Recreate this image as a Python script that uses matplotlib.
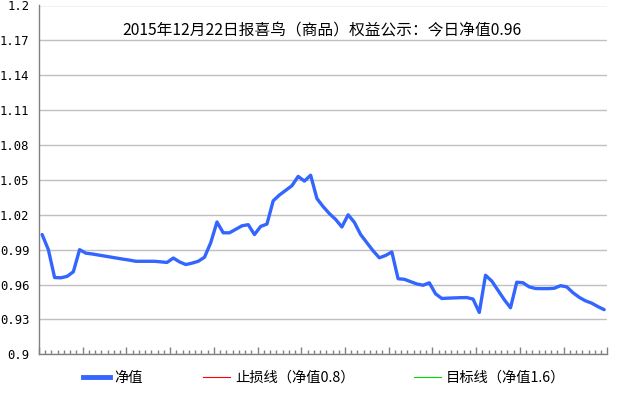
import matplotlib
matplotlib.use("Agg")
import matplotlib.pyplot as plt
from matplotlib.lines import Line2D
import numpy as np

plt.rcParams['font.family'] = ['Noto Sans CJK SC', 'DejaVu Sans']

title = "2015年12月22日报喜鸟（商品）权益公示：今日净值0.96"
series_names = ["净值", "止损线（净值0.8）", "目标线（净值1.6）"]

nav = [1.003, 0.990, 0.966, 0.9658, 0.967, 0.971, 0.990, 0.987, 0.9863, 0.9854,
       0.9845, 0.9836, 0.9827, 0.9818, 0.9810, 0.9800, 0.9800, 0.9800, 0.9800, 0.9795,
       0.9790, 0.9828, 0.9795, 0.9772, 0.9784, 0.9800, 0.9835, 0.9960, 1.0138, 1.0045,
       1.0045, 1.0075, 1.0105, 1.0115, 1.0030, 1.0100, 1.0120, 1.0320, 1.0370, 1.0410,
       1.0450, 1.0530, 1.0490, 1.0540, 1.0340, 1.0270, 1.0210, 1.0160, 1.0095, 1.0200,
       1.0135, 1.0030, 0.9960, 0.9890, 0.9830, 0.9850, 0.9880, 0.9650, 0.9645, 0.9625,
       0.9605, 0.9594, 0.9615, 0.9520, 0.9480, 0.9483, 0.9485, 0.9487, 0.9488, 0.9475,
       0.9360, 0.9680, 0.9630, 0.9550, 0.9470, 0.9400, 0.9620, 0.9615, 0.9580, 0.9566,
       0.9565, 0.9565, 0.9568, 0.9590, 0.9580, 0.9530, 0.9490, 0.9460, 0.9440, 0.9410,
       0.9384]
stop_line = [0.8] * len(nav)
target_line = [1.6] * len(nav)

y_ticks = [0.9, 0.93, 0.96, 0.99, 1.02, 1.05, 1.08, 1.11, 1.14, 1.17, 1.2]
y_labels = ["0.9", "0.93", "0.96", "0.99", "1.02", "1.05", "1.08", "1.11", "1.14", "1.17", "1.2"]

fig = plt.figure(figsize=(6.42, 3.93), dpi=100)
ax = fig.add_axes([39/642, 1 - 354.3/393, (607.3-39)/642, (354.3-5.5)/393])

n = len(nav)
x = np.arange(n) + 0.5
ax.plot(x, stop_line, color="#ff0000", lw=0.8, label=series_names[1])
ax.plot(x, target_line, color="#00dd00", lw=0.8, label=series_names[2])
ax.plot(x, nav, color="#3366ff", lw=2.4, solid_capstyle="round", solid_joinstyle="round",
        label=series_names[0], zorder=5)

ax.set_xlim(0, n)
ax.set_ylim(0.9, 1.2)
ax.set_yticks(y_ticks)
ax.set_yticklabels(y_labels, family="DejaVu Sans Mono", fontsize=8.8)
ax.tick_params(axis='y', length=0, pad=7)
ax.set_xticks(np.arange(0, n + 1, 7))
ax.set_xticks(np.arange(0, n + 1, 1), minor=True)
ax.set_xticklabels([])
ax.tick_params(axis='x', which='major', direction='in', length=5, color="#808080", width=1)
ax.tick_params(axis='x', which='minor', direction='in', length=3, color="#808080", width=1)
ax.grid(axis='y', color="#c0c0c0", lw=1)
ax.set_axisbelow(True)
for s in ['top', 'right']:
    ax.spines[s].set_visible(False)
for s in ['left', 'bottom']:
    ax.spines[s].set_color("#808080")
    ax.spines[s].set_linewidth(1)

ax.text(0.497, 0.928, title, transform=ax.transAxes, ha='center', va='center', fontsize=11.3)

handles = [Line2D([], [], color="#3366ff", lw=3.5),
           Line2D([], [], color="#ff0000", lw=0.8),
           Line2D([], [], color="#00dd00", lw=0.8)]
fig.legend(handles, series_names, loc='center', bbox_to_anchor=(0.505, 0.038), ncol=3,
           frameon=False, fontsize=10.3, handlelength=1.85, handletextpad=0.35, columnspacing=4.2)

fig.savefig("out.png", dpi=100)
